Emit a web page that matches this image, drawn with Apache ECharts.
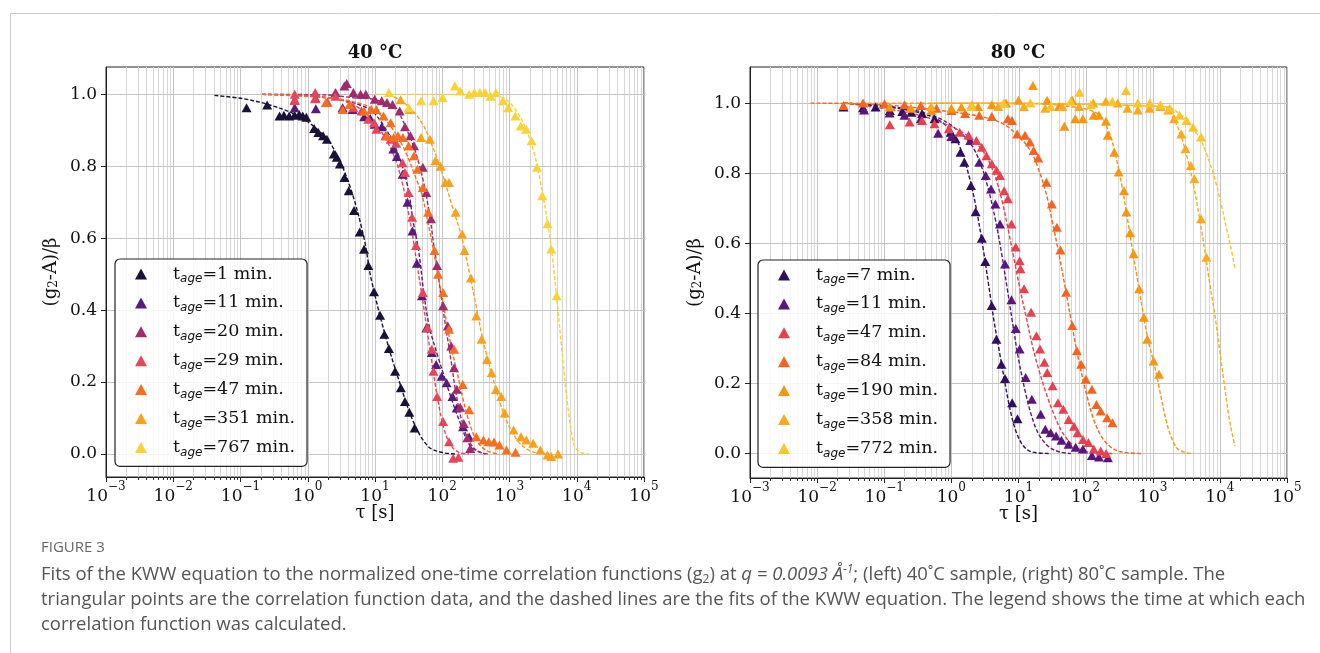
<!DOCTYPE html>
<html><head><meta charset="utf-8">
<script src="https://cdn.jsdelivr.net/npm/echarts@6/dist/echarts.min.js"></script>
<style>html,body{margin:0;padding:0;background:#fff}#c{width:1320px;height:653px}</style>
</head><body><div id="c"></div>
<script>
// ---------- tick definitions ----------
const xMajorTicks = [1e-3,1e-2,1e-1,1e0,1e1,1e2,1e3,1e4,1e5];
const xTickExponents = ['−3','−2','−1','0','1','2','3','4','5'];
const minorMultipliers = [2,3,4,5,6,7,8,9];
const yTickValues = [0,0.2,0.4,0.6,0.8,1.0];
const yTickLabels = ['0.0','0.2','0.4','0.6','0.8','1.0'];

// ---------- left panel (40 °C) ----------
const leftNames = ['1','11','20','29','47','351','767'];
const leftColors = ['#1b1136','#5a1a7b','#a02a6d','#e6465a','#f76e1e','#f9a11b','#fad235'];

const L1_pts = [[0.123,0.963],[0.249,0.970],[0.381,0.940],[0.442,0.942],[0.53,0.940],[0.637,0.942],[0.746,0.944],[0.843,0.940],[0.953,0.936],[1.245,0.905],[1.44,0.894],[1.69,0.885],[1.93,0.875],[2.44,0.834],[2.7,0.825],[3.0,0.806],[3.51,0.769],[4.07,0.732],[4.88,0.677],[5.93,0.617],[6.87,0.569],[7.96,0.524],[9.67,0.451],[11.9,0.386],[13.8,0.333],[16.1,0.293],[19.9,0.230],[24.2,0.184],[27.9,0.146],[32.4,0.116],[38.8,0.072]];
const L1_fit = [[0.041,0.997],[0.109,0.988],[0.255,0.972],[0.6,0.947],[1.245,0.91],[2.29,0.857],[4.22,0.745],[6.87,0.6],[8.77,0.487],[14.3,0.328],[23.3,0.198],[37.9,0.086],[61.8,0.021],[100,0.004],[164,0]];

const L11_pts = [[0.64,0.963],[1.32,0.96],[3.3,0.963],[4.65,0.958],[6.9,0.938],[8.5,0.933],[9.9,0.917],[12.6,0.91],[18.7,0.848],[21.1,0.827],[25.7,0.778],[30.4,0.70],[36,0.62],[42,0.53],[50,0.44],[58,0.35],[70,0.282],[81,0.249],[98,0.216],[116,0.198],[142,0.16],[164,0.128],[204,0.076],[251,0.047]];
const L11_fit = [[0.21,1.0],[1,0.995],[3,0.985],[8,0.96],[12.6,0.921],[20.6,0.848],[29.7,0.755],[37.9,0.635],[44.5,0.566],[54.7,0.431],[65.6,0.347],[89,0.263],[128,0.17],[185,0.086],[267,0.02],[435,0]];

const L20_pts = [[0.64,0.985],[1.3,0.99],[2.59,1.005],[3.5,1.023],[3.8,1.03],[4.77,1.005],[6.1,1.0],[7.3,1.0],[9.9,0.986],[12.6,0.982],[15.1,0.977],[18.2,0.972],[23.3,0.954],[27.9,0.91],[33.6,0.885],[38,0.857],[51.4,0.797],[58,0.727],[68,0.654],[83.8,0.524],[103,0.412],[121,0.356],[136,0.30],[150,0.24],[165,0.18],[185,0.13],[209,0.085],[236,0.045],[260,0.015]];
const L20_fit = [[0.21,1.0],[2,0.998],[5,0.99],[10,0.985],[20,0.96],[30,0.9],[40,0.84],[52,0.76],[63,0.68],[75,0.58],[88,0.49],[105,0.39],[130,0.28],[160,0.17],[200,0.085],[260,0.03],[350,0.006],[500,0]];

const L29_pts = [[0.64,1.0],[0.64,0.983],[1.29,1.005],[1.29,0.988],[1.96,0.979],[2.59,0.995],[4.2,0.972],[4.77,0.963],[6.3,0.954],[7.96,0.931],[9.67,0.921],[10.5,0.903],[14.3,0.885],[17.1,0.875],[20.6,0.864],[25.7,0.81],[27.9,0.783],[31.6,0.727],[35.6,0.658],[40.7,0.58],[51.4,0.449],[60.3,0.352],[69.8,0.291],[74.1,0.23],[83.8,0.16],[103,0.09],[126,0.034],[145,-0.012],[174,-0.009]];
const L29_fit = [[0.21,1.0],[1,0.997],[3,0.985],[6,0.96],[10,0.92],[15,0.87],[20,0.82],[25,0.76],[30,0.69],[36,0.61],[42,0.53],[50,0.44],[60,0.34],[72,0.24],[88,0.14],[110,0.06],[140,0.02],[180,0.004],[250,0]];

const L47_pts = [[1.86,0.977],[3.3,0.958],[4.2,0.972],[6.87,0.954],[8.8,0.958],[10.5,0.958],[13.4,0.94],[15,0.885],[17.1,0.921],[19,0.88],[22,0.885],[26,0.88],[31.6,0.857],[38,0.829],[42.7,0.792],[51.4,0.741],[61.8,0.672],[76.7,0.566],[86.8,0.50],[103,0.449],[126,0.347],[150,0.291],[201,0.193],[251,0.123],[321,0.048],[409,0.039],[491,0.034],[588,0.033],[710,0.025],[903,0.011],[1230,0.005]];
const L47_fit = [[0.21,1.0],[2,0.99],[6,0.975],[10,0.955],[15,0.925],[22,0.88],[30,0.83],[40,0.77],[50,0.72],[62,0.64],[75,0.56],[90,0.48],[110,0.39],[135,0.3],[165,0.23],[205,0.15],[260,0.08],[330,0.035],[450,0.01],[700,0]];

const L351_pts = [[24,0.985],[32.7,0.958],[48.4,0.88],[65.6,0.875],[78.8,0.815],[94.6,0.80],[111,0.755],[126,0.755],[158,0.672],[197,0.612],[214,0.566],[267,0.489],[321,0.384],[385,0.319],[462,0.263],[542,0.226],[630,0.179],[753,0.16],[850,0.114],[1150,0.067],[1480,0.048],[1780,0.039],[2250,0.03],[2880,0.011],[3680,-0.003],[4170,-0.007],[5270,0.0]];
const L351_fit = [[16,1.0],[30,0.97],[50,0.92],[70,0.86],[100,0.78],[140,0.69],[190,0.61],[250,0.51],[320,0.41],[400,0.32],[500,0.25],[650,0.17],[850,0.105],[1100,0.06],[1500,0.025],[2200,0.006],[3500,0]];

const L767_pts = [[16.1,1.005],[31.6,0.963],[48.4,0.982],[74.3,0.982],[101,0.991],[154,1.023],[185,1.009],[251,1.0],[301,1.005],[362,1.005],[434,1.005],[522,0.995],[626,1.005],[798,0.982],[959,0.963],[1220,0.94],[1470,0.912],[1770,0.903],[2130,0.871],[2560,0.797],[3070,0.718],[3680,0.64],[4170,0.57],[5020,0.44]];
const L767_fit = [[10,1.0],[300,1.0],[800,0.99],[1200,0.96],[1700,0.91],[2300,0.84],[3000,0.74],[3700,0.64],[4200,0.57],[5000,0.44],[6000,0.29],[7500,0.12],[9160,0.025],[11000,0.006],[15000,0]];

// ---------- right panel (80 °C) ----------
const rightNames = ['7','11','47','84','190','358','772'];
const rightColors = ['#2f0d5f','#5c157e','#e8404e','#f4641f','#f8960f','#faaa1c','#fbc428'];

const R7_pts = [[0.0247,0.989],[0.0483,0.987],[0.0743,0.989],[0.121,0.979],[0.186,0.976],[0.253,0.974],[0.366,0.970],[0.562,0.955],[0.976,0.917],[1.15,0.898],[1.37,0.86],[1.56,0.831],[1.96,0.765],[2.3,0.69],[2.84,0.614],[3.2,0.548],[4.0,0.422],[4.69,0.326],[5.57,0.255],[6.3,0.214],[8.04,0.145],[9.66,0.099]];
const R7_fit = [[0.025,1.0],[0.1,0.99],[0.3,0.975],[0.6,0.955],[1,0.92],[1.4,0.865],[1.9,0.78],[2.4,0.69],[3,0.58],[3.6,0.48],[4.3,0.38],[5.2,0.29],[6.3,0.2],[7.6,0.12],[9.3,0.06],[12,0.02],[16,0.004],[30,0]];

const R11_pts = [[0.05,0.98],[0.12,0.972],[0.2,0.965],[0.35,0.955],[0.635,0.914],[1.0,0.905],[1.91,0.893],[2.6,0.831],[3.25,0.793],[3.9,0.755],[4.52,0.712],[5.3,0.655],[6.3,0.541],[7.85,0.439],[9.1,0.357],[10.4,0.298],[12.8,0.217],[15.8,0.155],[21.4,0.112],[25.1,0.069],[30.2,0.059],[36.3,0.05],[43.7,0.038],[55.8,0.026],[71.3,0.018],[91,0.013],[124,-0.006],[158,-0.01],[215,-0.012]];
const R11_fit = [[0.025,1.0],[0.2,0.985],[0.6,0.96],[1.2,0.925],[2,0.88],[2.8,0.82],[3.6,0.75],[4.5,0.67],[5.5,0.58],[6.8,0.47],[8.2,0.37],[10,0.27],[12.5,0.18],[15.5,0.11],[20,0.055],[28,0.02],[40,0.005],[60,0]];

const R47_pts = [[0.121,0.938],[0.238,0.946],[0.366,0.95],[0.56,0.941],[0.918,0.927],[1.33,0.917],[1.8,0.908],[2.36,0.893],[2.84,0.874],[3.33,0.85],[4.0,0.827],[4.7,0.808],[5.3,0.793],[6.1,0.75],[6.95,0.727],[7.85,0.655],[9.1,0.589],[10.4,0.55],[10.7,0.527],[12.1,0.47],[15.4,0.403],[18.5,0.336],[20.9,0.298],[24.3,0.26],[26.8,0.231],[32.2,0.193],[38.7,0.145],[46.5,0.126],[55.9,0.097],[67.1,0.078],[75.9,0.059],[91.2,0.04],[110,0.031],[132,0.013],[168,0.007],[202,0.0]];
const R47_fit = [[0.025,1.0],[0.2,0.975],[0.6,0.95],[1.5,0.915],[2.5,0.88],[3.5,0.84],[4.5,0.79],[5.7,0.72],[7,0.64],[8.5,0.56],[10.5,0.47],[13,0.39],[16,0.31],[20,0.24],[26,0.17],[34,0.11],[45,0.06],[60,0.03],[85,0.01],[130,0.002],[250,0]];

const R84_pts = [[0.0247,0.993],[0.0483,1.0],[0.101,0.998],[0.2,0.995],[0.35,0.993],[0.6,0.985],[1.0,0.979],[1.6,0.97],[2.6,0.965],[4.0,0.962],[6.95,0.955],[8,0.95],[9.55,0.912],[12.5,0.908],[14.8,0.889],[16.8,0.865],[19.7,0.843],[26.1,0.774],[31.4,0.712],[37.3,0.646],[42.1,0.581],[51.2,0.46],[63.1,0.365],[74,0.293],[85.8,0.255],[100.6,0.212],[124,0.183],[145,0.14],[168,0.121],[209,0.102],[251,0.088]];
const R84_fit = [[0.008,1.0],[0.1,0.995],[1,0.975],[3,0.96],[6,0.94],[10,0.905],[15,0.865],[20,0.81],[26,0.74],[32,0.66],[40,0.57],[50,0.47],[62,0.37],[78,0.27],[100,0.18],[130,0.1],[170,0.05],[230,0.02],[330,0.005],[700,0]];

const R190_pts = [[0.121,0.989],[0.25,0.985],[0.5,0.979],[1.0,0.985],[1.41,0.989],[2.5,0.99],[4,0.995],[6.5,1.0],[10,1.008],[16.4,1.05],[26.7,1.008],[40,0.99],[48.2,0.934],[63,1.008],[70,0.955],[90.7,0.955],[132,0.965],[158,0.965],[201,0.948],[214,0.908],[267,0.86],[310,0.803],[373,0.75],[405,0.689],[460,0.63],[518,0.57],[626,0.47],[737,0.389],[829,0.326],[1030,0.264],[1240,0.226]];
const R190_fit = [[0.025,1.0],[10,1.0],[60,0.99],[150,0.97],[220,0.92],[280,0.85],[350,0.76],[420,0.67],[500,0.58],[600,0.49],[720,0.4],[850,0.325],[1050,0.255],[1300,0.17],[1600,0.09],[1900,0.045],[2300,0.015],[3000,0.003],[3840,0]];

const R358_pts = [[0.5,0.99],[2,0.995],[5,0.99],[12,0.99],[25,0.985],[45,0.99],[80,0.99],[130,1.0],[200,1.005],[300,1.0],[420,0.985],[600,0.98],[900,0.985],[1300,0.99],[1700,0.98],[2080,0.955],[2660,0.912],[3080,0.87],[3700,0.822],[4170,0.784],[5240,0.67],[6300,0.56]];
const R358_fit = [[0.5,1.0],[1500,0.99],[2000,0.96],[2600,0.91],[3200,0.85],[4000,0.77],[5000,0.67],[5900,0.584],[7000,0.49],[8500,0.39],[10000,0.29],[11600,0.2],[13500,0.11],[15500,0.05],[16700,0.021]];

const R772_pts = [[2,0.99],[6,1.0],[15,1.0],[30,0.99],[60,1.005],[81,1.031],[120,0.995],[250,1.005],[400,1.036],[600,1.0],[900,1.0],[1300,0.995],[1800,0.985],[2500,0.965],[3200,0.95],[4000,0.931],[5240,0.903]];
const R772_fit = [[2,1.0],[1500,0.99],[2500,0.97],[3500,0.94],[5000,0.9],[6500,0.85],[8500,0.78],[10500,0.71],[12300,0.65],[14500,0.59],[16700,0.53]];

const leftPts = [L1_pts,L11_pts,L20_pts,L29_pts,L47_pts,L351_pts,L767_pts];
const leftFits = [L1_fit,L11_fit,L20_fit,L29_fit,L47_fit,L351_fit,L767_fit];
const rightPts = [R7_pts,R11_pts,R47_pts,R84_pts,R190_pts,R358_pts,R772_pts];
const rightFits = [R7_fit,R11_fit,R47_fit,R84_fit,R190_fit,R358_fit,R772_fit];

const panelTitles = ['40 °C','80 °C'];
const captionHead = 'FIGURE 3';
const captionLines = [
 '{n|Fits of the KWW equation to the normalized one-time correlation functions (g}{sb|2}{n|) at }{i|q = 0.0093 Å}{sp|-1}{n|; (left) 40˚C sample, (right) 80˚C sample. The}',
 '{n|triangular points are the correlation function data, and the dashed lines are the fits of the KWW equation. The legend shows the time at which each}',
 '{n|correlation function was calculated.}'
];

// ---------- build ----------
const SERIF = 'DejaVu Serif';
const CAP = 'Open Sans';
const grids = [
  {left:106, top:67, width:538, height:410, ymin:-0.064, ymax:1.076},
  {left:750, top:67, width:537, height:411, ymin:-0.070, ymax:1.103}
];
const xGridVals = [];
for (let d = 0; d < xMajorTicks.length; d++) {
  xGridVals.push([xMajorTicks[d], 1]);
  if (d < xMajorTicks.length - 1) minorMultipliers.forEach(m => xGridVals.push([xMajorTicks[d]*m, 0]));
}

const series = [];
function gridSeries(g) {
  series.push({
    type:'custom', xAxisIndex:g, yAxisIndex:g, silent:true, z:0, clip:false,
    data: xGridVals,
    renderItem: (params, api) => {
      const cs = params.coordSys;
      const p = api.coord([api.value(0), 0.5]);
      const x = Math.round(p[0]) + 0.5;
      const major = api.value(1) === 1;
      const ch = [{type:'line', shape:{x1:x, y1:cs.y, x2:x, y2:cs.y+cs.height}, style:{stroke: major ? '#c4c4c4' : '#d6d6d6', lineWidth:1}}];
      if (!major) ch.push({type:'line', shape:{x1:x, y1:cs.y+cs.height, x2:x, y2:cs.y+cs.height+3}, style:{stroke:'#333', lineWidth:1}});
      return {type:'group', children:ch};
    }
  });
  series.push({
    type:'custom', xAxisIndex:g, yAxisIndex:g, silent:true, z:0, clip:false,
    data: yTickValues.map(v => [1, v]),
    renderItem: (params, api) => {
      const cs = params.coordSys;
      const p = api.coord([1, api.value(1)]);
      const y = Math.round(p[1]) + 0.5;
      return {type:'line', shape:{x1:cs.x, y1:y, x2:cs.x+cs.width, y2:y}, style:{stroke:'#c4c4c4', lineWidth:1}};
    }
  });
}
gridSeries(0); gridSeries(1);

function addPanel(g, prefix, names, colors, pts, fits) {
  names.forEach((n, i) => {
    series.push({type:'scatter', name:prefix+n, xAxisIndex:g, yAxisIndex:g, data:pts[i],
      symbol:'triangle', symbolSize:[10,9], itemStyle:{color:colors[i], opacity:1}, z:3, emphasis:{disabled:true}});
    series.push({type:'line', name:prefix+n+'_fit', xAxisIndex:g, yAxisIndex:g, data:fits[i],
      smooth:0.35, showSymbol:false, symbol:'none', silent:true, z:3,
      lineStyle:{color:colors[i], width:1.4, type:[4,2]}});
  });
}
addPanel(0, 'L', leftNames, leftColors, leftPts, leftFits);
addPanel(1, 'R', rightNames, rightColors, rightPts, rightFits);

function xAxisCfg(g) {
  return {
    gridIndex:g, type:'log', logBase:10, min:1e-3, max:1e5,
    axisLine:{show:true, onZero:false, lineStyle:{color:'#222', width:1}},
    axisTick:{show:true, length:5, customValues:xMajorTicks, lineStyle:{color:'#222'}},
    axisLabel:{customValues:xMajorTicks, margin:4, showMinLabel:true, showMaxLabel:true, hideOverlap:false,
      formatter: v => { const i = xMajorTicks.findIndex(t => Math.abs(Math.log10(t) - Math.log10(v)) < 1e-6); return '{b|10}{e|' + xTickExponents[i] + '}'; },
      rich:{ b:{fontFamily:SERIF, fontSize:17, color:'#111', lineHeight:24, verticalAlign:'bottom'},
             e:{fontFamily:SERIF, fontSize:12, color:'#111', lineHeight:12, verticalAlign:'top'} }},
    splitLine:{show:false}, minorTick:{show:false},
    name:'τ [s]', nameLocation:'middle', nameGap:27, nameMoveOverlap:false,
    nameTextStyle:{fontFamily:SERIF, fontSize:18, color:'#111'}
  };
}
function yAxisCfg(g) {
  return {
    gridIndex:g, type:'value', min:grids[g].ymin, max:grids[g].ymax,
    axisLine:{show:true, lineStyle:{color:'#222', width:1}},
    axisTick:{show:true, length:5, customValues:yTickValues, lineStyle:{color:'#222'}},
    axisLabel:{customValues:yTickValues, margin:9, fontFamily:SERIF, fontSize:17, color:'#111',
      formatter: v => { const i = yTickValues.findIndex(t => Math.abs(t - v) < 1e-6); return i >= 0 ? yTickLabels[i] : ''; }},
    splitLine:{show:false},
    name:'(g{s|2}-A)/β', nameLocation:'middle', nameGap:46, nameRotate:90, nameMoveOverlap:false,
    nameTextStyle:{fontFamily:SERIF, fontSize:18, color:'#111',
      rich:{ s:{fontFamily:SERIF, fontSize:12, color:'#111', verticalAlign:'bottom', lineHeight:14} }}
  };
}

function legendCfg(prefix, names, left, top, spacer) {
  return {
    left:left, top:top, orient:'vertical', selectedMode:false,
    data: names.map(n => ({name:prefix+n, icon:'triangle'})),
    itemWidth:12, itemHeight:11, itemGap:8.9,
    padding:[6, 12, 8, 20],
    borderColor:'#222', borderWidth:1.2, borderRadius:5, backgroundColor:'rgba(255,255,255,0.85)',
    formatter: name => '{p| }{t|t}{s|age}{t|=' + name.slice(1) + ' min.}',
    textStyle:{ rich:{
      p:{width:spacer, lineHeight:22},
      t:{fontFamily:SERIF, fontSize:17.5, color:'#111', lineHeight:22, verticalAlign:'middle'},
      s:{fontFamily:'DejaVu Sans', fontStyle:'italic', fontSize:12, color:'#111', lineHeight:14, verticalAlign:'bottom'}
    }}
  };
}

const graphic = [
  {type:'line', shape:{x1:10, y1:13.5, x2:1320, y2:13.5}, style:{stroke:'#cccccc', lineWidth:1}, silent:true},
  {type:'line', shape:{x1:10.5, y1:13, x2:10.5, y2:653}, style:{stroke:'#cccccc', lineWidth:1}, silent:true},
  {type:'text', x:375, y:53, style:{text:panelTitles[0], fontFamily:SERIF, fontWeight:'bold', fontSize:18, fill:'#111', align:'center', verticalAlign:'middle'}},
  {type:'text', x:1018, y:53, style:{text:panelTitles[1], fontFamily:SERIF, fontWeight:'bold', fontSize:18, fill:'#111', align:'center', verticalAlign:'middle'}},
  {type:'text', x:41, y:548, style:{text:captionHead, fontFamily:CAP, fontSize:15, fill:'#666', verticalAlign:'middle'}}
];
const capRich = {
  n:{fontFamily:CAP, fontSize:18.5, fill:'#555', lineHeight:22, verticalAlign:'middle'},
  i:{fontFamily:CAP, fontStyle:'italic', fontSize:18.5, fill:'#555', lineHeight:22, verticalAlign:'middle'},
  sb:{fontFamily:CAP, fontSize:12, fill:'#555', lineHeight:13, verticalAlign:'bottom'},
  sp:{fontFamily:CAP, fontStyle:'italic', fontSize:12, fill:'#555', lineHeight:13, verticalAlign:'top'}
};
[575, 600, 625].forEach((y, k) => graphic.push({type:'text', x:41, y:y, style:{text:captionLines[k], rich:capRich, verticalAlign:'middle'}}));

const chart = echarts.init(document.getElementById('c'));
chart.setOption({
  animation:false,
  backgroundColor:'#fff',
  grid: grids.map(g => ({left:g.left, top:g.top, width:g.width, height:g.height, show:true, borderColor:'#222', borderWidth:1, backgroundColor:'transparent', containLabel:false})),
  xAxis:[xAxisCfg(0), xAxisCfg(1)],
  yAxis:[yAxisCfg(0), yAxisCfg(1)],
  legend:[legendCfg('L', leftNames, 115, 259, 21), legendCfg('R', rightNames, 758, 260, 21)],
  graphic: graphic,
  series: series
});
</script></body></html>
